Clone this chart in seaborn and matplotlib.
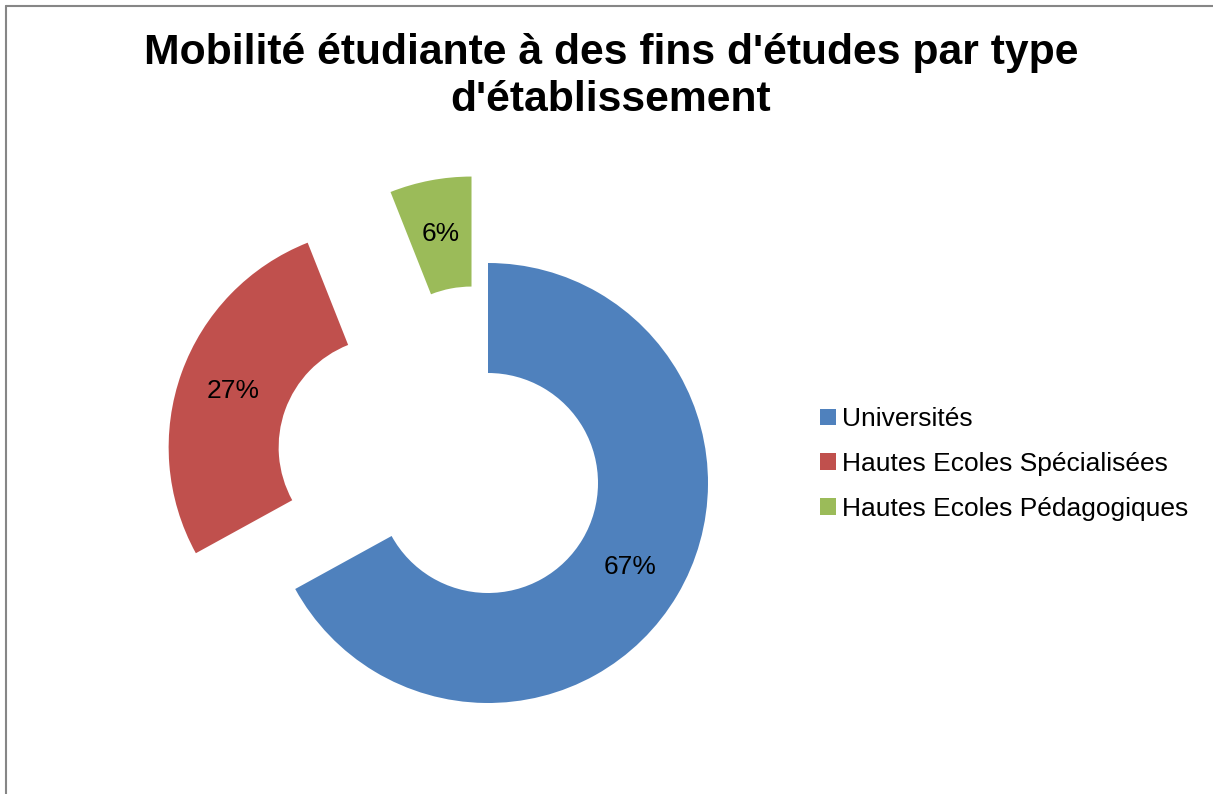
import matplotlib
matplotlib.use("Agg")
import matplotlib.pyplot as plt
from matplotlib.lines import Line2D
import seaborn as sns

# ---- data ----
categories = ["Universités", "Hautes Ecoles Spécialisées", "Hautes Ecoles Pédagogiques"]
shares = [67, 27, 6]
title_text = "Mobilité étudiante à des fins d'études par type\nd'établissement"

# ---- style ----
colors = ["#4F81BD", "#C0504D", "#9BBB59"]
explode = [0.0, 0.48, 0.40]

sns.set_theme(style="white")
plt.rcParams["font.family"] = ["Liberation Sans", "DejaVu Sans"]

W, H, DPI = 1213, 794, 100
fig = plt.figure(figsize=(W / DPI, H / DPI), dpi=DPI)
fig.patch.set_facecolor("white")

ax = fig.add_axes([0, 0, 1, 1])
wedges, texts, autotexts = ax.pie(
    shares,
    colors=colors,
    startangle=90,
    counterclock=False,
    explode=explode,
    radius=1.0,
    autopct=lambda p: f"{p:.0f}%",
    pctdistance=0.75,
    wedgeprops=dict(width=0.5, linewidth=0),
    textprops=dict(fontsize=19, color="black"),
)

# map data units to pixels: radius 1 = 220 px, pie centre at (488, 483) px from top-left
R_PX, CX, CY = 220.0, 488.0, 483.0
ax.set_xlim(-CX / R_PX, (W - CX) / R_PX)
ax.set_ylim(-(H - CY) / R_PX, CY / R_PX)
ax.set_aspect("auto")
ax.axis("off")

# legend
leg = ax.legend(
    wedges,
    categories,
    loc="center left",
    bbox_to_anchor=(820 / W, 1 - 464 / H),
    bbox_transform=fig.transFigure,
    frameon=False,
    fontsize=19,
    handlelength=0.6,
    handleheight=0.6,
    handletextpad=0.25,
    labelspacing=0.78,
    borderpad=0,
    borderaxespad=0,
)
for t in leg.get_texts():
    t.set_color("black")

# title
fig.text(611 / W, 1 - 33 / H, title_text, ha="center", va="top",
         fontsize=30.7, fontweight="bold", linespacing=1.24, color="black")

# chart-area border (top and left edges visible)
fig.add_artist(Line2D([6 / W, 1.0], [1 - 6 / H, 1 - 6 / H], transform=fig.transFigure,
                      color="#868686", lw=1.5))
fig.add_artist(Line2D([6 / W, 6 / W], [0.0, 1 - 6 / H], transform=fig.transFigure,
                      color="#868686", lw=1.5))

fig.savefig("out.png", dpi=DPI, facecolor="white")
